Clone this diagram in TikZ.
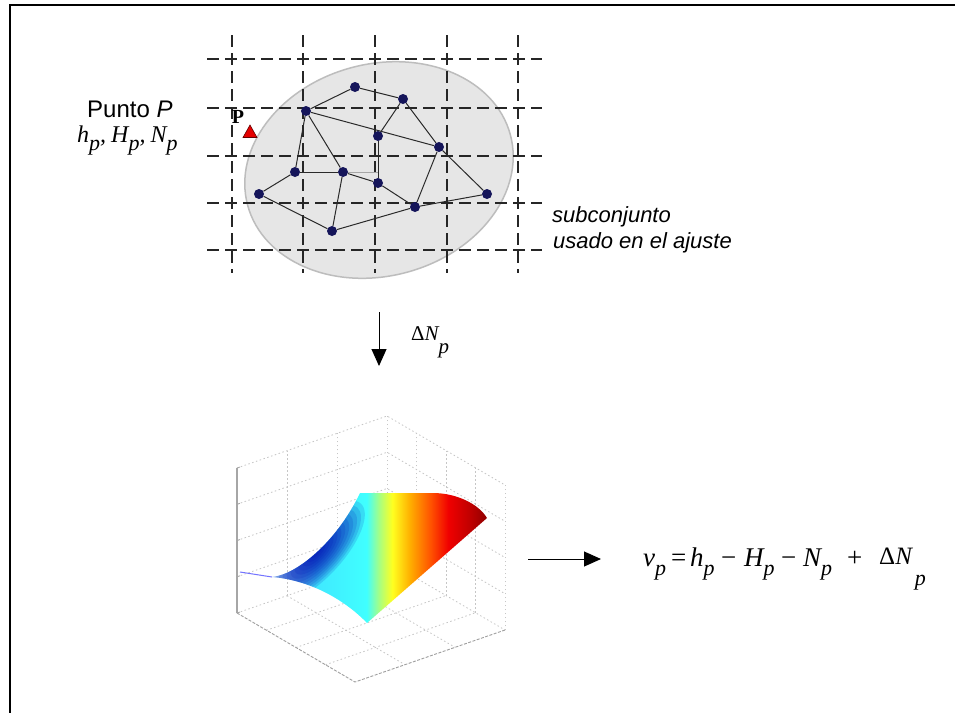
\documentclass[tikz,border=0pt]{standalone}
\usepackage{fontspec}
\setmainfont{Liberation Serif}
\newfontfamily\arialf{Liberation Sans}
\usetikzlibrary{arrows.meta,calc}
\definecolor{dotc}{HTML}{15155A}
\definecolor{edgec}{HTML}{2A2A2A}
\definecolor{ellfill}{HTML}{E6E6E6}
\definecolor{elldraw}{HTML}{BDBDBD}
\definecolor{jA}{HTML}{B8E6FF}
\definecolor{jB}{HTML}{40E8FF}
\definecolor{jC}{HTML}{40FFFF}
\definecolor{jD}{HTML}{A8FF80}
\definecolor{jE}{HTML}{FFFF20}
\definecolor{jF}{HTML}{FFB000}
\definecolor{jG}{HTML}{FF5000}
\definecolor{jH}{HTML}{F00000}
\definecolor{jI}{HTML}{C00000}
\definecolor{jJ}{HTML}{900000}
\definecolor{deepblue}{HTML}{0000B0}
\pgfdeclarehorizontalshading{jetsurf}{100bp}{color(0bp)=(jA); color(25bp)=(jA); color(35bp)=(jB); color(47bp)=(jC); color(50bp)=(jD); color(53bp)=(jE); color(57bp)=(jF); color(62bp)=(jG); color(66bp)=(jH); color(71bp)=(jI); color(75bp)=(jJ); color(100bp)=(jJ)}
\newcommand\mysubp[2]{\raisebox{-#1}{\fontsize{#2}{#2}\selectfont\itshape p}}
\def\surfpath{(272,577) .. controls (295,575) and (335,545) .. (360,493) -- (433,493) .. controls (455,493) and (478,503) .. (487,518) -- (367,623) .. controls (345,600) and (310,580) .. (272,577) -- cycle}
\tikzset{
  frame/.style={line width=2.2pt, black},
  gridline/.style={line width=1.4pt, black!85, dash pattern=on 12pt off 6pt},
  edge/.style={line width=1pt, edgec},
  lightedge/.style={line width=1pt, gray!70},
  dotn/.style={circle, fill=dotc, inner sep=0pt, minimum size=10pt},
  arr/.style={line width=1pt, -{Triangle[length=17pt,width=15pt]}},
  plotgrid/.style={line width=0.8pt, gray!45, dash pattern=on 1.5pt off 2.5pt},
  plotaxis/.style={line width=0.9pt, gray!75, dash pattern=on 3pt off 1.5pt},
  sans/.style={font=\arialf\fontsize{24}{28}\selectfont, inner sep=0pt},
  eqtxt/.style={font=\fontsize{27}{30}\selectfont\itshape, inner sep=0pt, anchor=base west},
  eqop/.style={font=\fontsize{27}{30}\selectfont, inner sep=0pt, anchor=base west},
}
\begin{document}
\begin{tikzpicture}[x=1pt,y=-1pt]
\useasboundingbox (0,0) rectangle (955,713);
\fill[white] (0,0) rectangle (955,713);
% frame
\draw[frame] (955,5) -- (10,5) -- (10,713);

% ---------- top: region, grid, network ----------
\draw[fill=ellfill, draw=elldraw, line width=1.5pt, rotate around={15:(379,170)}] (379,170) ellipse [x radius=136, y radius=106];
\foreach \gx in {232,303,375,447,518} \draw[gridline] (\gx,35) -- (\gx,273);
\foreach \gy in {59,108,156,203,250} \draw[gridline] (207,\gy) -- (542,\gy);

\node[dotn] (n1) at (355,87) {};
\node[dotn] (n2) at (403,99) {};
\node[dotn] (n3) at (306,111) {};
\node[dotn] (n4) at (378,136) {};
\node[dotn] (n5) at (439,147) {};
\node[dotn] (n6) at (295,172) {};
\node[dotn] (n7) at (343,172) {};
\node[dotn] (n8) at (378,183) {};
\node[dotn] (n9) at (259,194) {};
\node[dotn] (n10) at (487,194) {};
\node[dotn] (n11) at (415,207) {};
\node[dotn] (n12) at (332,231) {};
\coordinate (c48) at (378,172);
\draw[lightedge] (n7) -- (c48);
\draw[edge] (n3) -- (n1);
\draw[edge] (n1) -- (n2);
\draw[edge] (n2) -- (n4);
\draw[edge] (n2) -- (n5);
\draw[edge] (n3) -- (n5);
\draw[edge] (n3) -- (n6);
\draw[edge] (n3) -- (n7);
\draw[edge] (n6) -- (n7);
\draw[edge] (n4) -- (n8);
\draw[edge] (n6) -- (n9);
\draw[edge] (n7) -- (n8);
\draw[edge] (n8) -- (n11);
\draw[edge] (n7) -- (n12);
\draw[edge] (n9) -- (n12);
\draw[edge] (n12) -- (n11);
\draw[edge] (n11) -- (n10);
\draw[edge] (n5) -- (n11);
\draw[edge] (n5) -- (n10);

% point P
\node[font=\bfseries\fontsize{20}{21}\selectfont, inner sep=0pt] (plabel) at (238,117) {P};
\draw[fill=red!90!black, draw=red!40!black, line width=0.6pt] (243,137.5) -- (250,125) -- (257,137.5) -- cycle;

% labels
\node[sans, anchor=base west] (punto) at (87,117) {Punto \textit{P}};
\node[anchor=base west, inner sep=0pt, font=\fontsize{24}{27}\selectfont\itshape] (hhn) at (77,142) {h\mysubp{8pt}{22},\kern5pt H\mysubp{8pt}{22},\kern5pt N\mysubp{8pt}{22}};
\node[font=\arialf\itshape\fontsize{22}{26}\selectfont, inner sep=0pt, anchor=base west] (sub1) at (552,222) {subconjunto};
\node[font=\arialf\itshape\fontsize{22}{26}\selectfont, inner sep=0pt, anchor=base west] (sub2) at (553,248) {usado en el ajuste};

% down arrow
\coordinate (a1s) at (379,312);
\coordinate (a1e) at (379,366);
\draw[arr] (a1s) -- (a1e);
\node[anchor=base west, inner sep=0pt, font=\fontsize{21}{24}\selectfont\itshape] (dn) at (411,340) {{\upshape Δ}N\raisebox{-13pt}{p}};

% ---------- 3D plot ----------
\coordinate (A) at (237,613);
\coordinate (B) at (355,682);
\coordinate (C) at (505,630);
\coordinate (D) at (387,561);
% floor grid
\foreach \t in {0.333,0.667} \draw[plotgrid] ($(A)!\t!(D)$) -- ($(B)!\t!(C)$);
\foreach \t in {0.25,0.5,0.75} \draw[plotgrid] ($(A)!\t!(B)$) -- ($(D)!\t!(C)$);
% walls horizontal
\foreach \z in {36.25,72.5,108.75,145} {
  \draw[plotgrid] ($(A)+(0,-\z)$) -- ($(D)+(0,-\z)$) -- ($(C)+(0,-\z)$);
}
% walls vertical
\foreach \t in {0.333,0.667,1} \draw[plotgrid] ($(A)!\t!(D)$) -- ($(A)!\t!(D)+(0,-145)$);
\foreach \t in {0.25,0.5,0.75,1} \draw[plotgrid] ($(D)!\t!(C)$) -- ($(D)!\t!(C)+(0,-145)$);
\draw[plotgrid] (D) -- (C);
\draw[plotgrid] (A) -- (D);
% axes
\draw[plotaxis] (A) -- (B) -- (C);
\draw[line width=1.3pt, gray!70] (A) -- ($(A)+(0,-145)$);
\foreach \z in {0,36.25,72.5,108.75,145} \draw[line width=0.8pt, gray!70] ($(A)+(0,-\z)$) -- ($(A)+(3,-\z-1)$);

% surface
\draw[line width=1pt, blue!55!white] (240,572) -- (272,577);
\shade[shading=jetsurf] \surfpath;
\begin{scope}
  \clip \surfpath;
  \foreach \s in {1,0.92,0.84,0.76,0.68,0.6,0.52,0.44,0.36,0.28,0.2,0.12}
    \fill[deepblue, opacity=0.13, rotate around={47:(316,552)}] (316,552) ellipse [x radius=66*\s, y radius=26*\s];
\end{scope}

% right arrow + equation
\coordinate (a2s) at (528,559);
\coordinate (a2e) at (601,559);
\draw[arr] (a2s) -- (a2e);
\node[eqtxt] (e1) at (643,566) {v\mysubp{9pt}{22}};
\node[eqop] (e2) at (671,566) {=};
\node[eqtxt] (e3) at (690,566) {h\mysubp{9pt}{22}};
\node[eqop] (e4) at (721,566) {−};
\node[eqtxt] (e5) at (744,566) {H\mysubp{9pt}{22}};
\node[eqop] (e6) at (781,566) {−};
\node[eqtxt] (e7) at (803,566) {N\mysubp{9pt}{22}};
\node[eqop] (e8) at (847,566) {+};
\node[eqtxt, font=\fontsize{25}{28}\selectfont\itshape] (e9) at (879,564) {{\upshape Δ}N\kern3pt\mysubp{21pt}{22}};
\end{tikzpicture}
\end{document}
